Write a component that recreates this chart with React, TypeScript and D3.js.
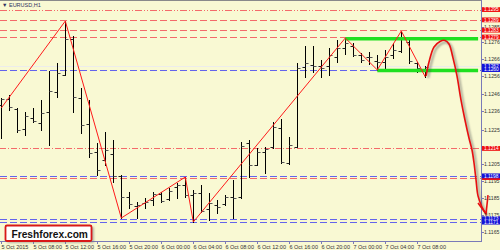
import React from "react";
import * as d3 from "d3";

// ---------- data ----------
const symbolTitle = "EURUSD,H1";
const timeLabels = [
  "5 Oct 2015", "5 Oct 08:00", "5 Oct 12:00", "5 Oct 16:00", "5 Oct 20:00",
  "6 Oct 00:00", "6 Oct 04:00", "6 Oct 08:00", "6 Oct 12:00", "6 Oct 16:00",
  "6 Oct 20:00", "7 Oct 00:00", "7 Oct 04:00", "7 Oct 08:00",
];
const timeLabelBars = [0, 4, 8, 12, 16, 20, 24, 28, 32, 36, 40, 44, 48, 52];

const opens = [
  1.12393, 1.12428, 1.1237, 1.12253, 1.12318, 1.12288, 1.12353, 1.12469, 1.12568, 1.12778,
  1.12434, 1.12283, 1.12119, 1.12073, 1.12108, 1.11979, 1.11857, 1.11804, 1.11822, 1.11839,
  1.11874, 1.11845, 1.11915, 1.11927, 1.11868, 1.1188, 1.11787, 1.1181, 1.11816, 1.11857,
  1.11857, 1.12172, 1.12043, 1.12119, 1.12148, 1.12259, 1.12055, 1.12148, 1.12615, 1.12627,
  1.12621, 1.12621, 1.12673, 1.12726, 1.12738, 1.12685, 1.12673, 1.1265, 1.12644, 1.12685,
  1.12708, 1.12761, 1.12638, 1.12598,
];
const highs = [
  1.12434, 1.12452, 1.12376, 1.12353, 1.12376, 1.12423, 1.12592, 1.12638, 1.12883, 1.12796,
  1.12493, 1.12423, 1.12172, 1.12236, 1.12189, 1.11985, 1.11886, 1.11828, 1.11851, 1.11886,
  1.11886, 1.11909, 1.11938, 1.11973, 1.11898, 1.11927, 1.1188, 1.11839, 1.11868, 1.11956,
  1.12178, 1.12189, 1.12143, 1.12148, 1.12294, 1.12312, 1.12207, 1.12638, 1.12738, 1.12738,
  1.12656, 1.12726, 1.12773, 1.12784, 1.12755, 1.12697, 1.12703, 1.12685, 1.12714, 1.12755,
  1.12825, 1.12778, 1.12644, 1.12621,
];
const lows = [
  1.12201, 1.12364, 1.12236, 1.12218, 1.12294, 1.12248, 1.1216, 1.1244, 1.12568, 1.12353,
  1.1223, 1.1209, 1.11985, 1.12043, 1.11944, 1.11734, 1.11792, 1.11734, 1.11792, 1.1181,
  1.11828, 1.11839, 1.11851, 1.11857, 1.11711, 1.11769, 1.11722, 1.11763, 1.1181, 1.11734,
  1.11851, 1.11973, 1.12043, 1.11997, 1.12143, 1.12055, 1.12049, 1.12148, 1.12557, 1.12586,
  1.12557, 1.12568, 1.12644, 1.12691, 1.12679, 1.12644, 1.12633, 1.12598, 1.12609, 1.12668,
  1.12703, 1.12638, 1.12586, 1.12557,
];
const closes = [
  1.12428, 1.12382, 1.12248, 1.12329, 1.123, 1.12347, 1.12475, 1.1258, 1.12778, 1.1244,
  1.12277, 1.12113, 1.12014, 1.12131, 1.11979, 1.11857, 1.11816, 1.1181, 1.11828, 1.11874,
  1.11833, 1.11892, 1.11927, 1.11868, 1.1188, 1.11775, 1.11822, 1.11798, 1.11857, 1.11851,
  1.12154, 1.12043, 1.12119, 1.12137, 1.12265, 1.12061, 1.1216, 1.12609, 1.12638, 1.12621,
  1.12609, 1.12685, 1.12726, 1.12755, 1.12685, 1.12656, 1.12673, 1.12644, 1.12673, 1.12714,
  1.12778, 1.1265, 1.12609, 1.12615,
];

const zigzagBars = [0, 8, 15, 23, 24, 43, 47, 50, 53];
const zigzagPrices = [1.12376, 1.12883, 1.11734, 1.11973, 1.11711, 1.12784, 1.12598, 1.12825, 1.12557];

const priceTicks = [
  "1.1285", "1.1276", "1.1266", "1.1256", "1.1246", "1.1236", "1.1225",
  "1.1205", "1.1195", "1.1185", "1.1175", "1.1165",
];

const redLevels = [1.1295, 1.1289, 1.1283, 1.1279, 1.1214, 1.1197];
const redLevelKinds = ["dashdotdot", "dash", "dash", "dash", "dashdot", "dash"];
const redLabelHidden = [false, false, false, false, false, true];
const blueLevels = [1.1260, 1.1198, 1.1173, 1.1171];
const bidPrice = 1.1262;

const greenPrices = [1.1278, 1.12594];
const greenStartBars = [43, 47];
const greenEndBar = 59.6;

const forecastBars = [53.1, 53.46, 54.09, 54.84, 55.46, 55.96, 56.46, 56.96, 57.46, 57.96, 58.46, 58.84, 59.09, 59.34, 59.59, 60.09, 60.59];
const forecastPrices = [1.12563, 1.12644, 1.12732, 1.12764, 1.1277, 1.12749, 1.12668, 1.12563, 1.12423, 1.12306, 1.12201, 1.12131, 1.12055, 1.11956, 1.11863, 1.11798, 1.11758];
const arrowBarbBars = [59.59, 60.84];
const arrowBarbPrices = [1.11822, 1.11868];

const brand = "Freshforex.com";

// ---------- layout ----------
const W = 500;
const H = 250;
const axisX = 481;
const plotTop = 1;
const plotBottom = 241;

export default function App() {
  const y = d3.scaleLinear().domain([1.116, 1.13]).range([plotBottom, plotTop]);
  const x = d3.scaleLinear().domain([0, 53]).range([1.3, 425.3]);
  const px = (i: number) => Math.round(x(i)) + 0.5;

  const red = "#f46a6a";
  const blue = "#6464ec";
  const dashes: Record<string, string> = {
    dash: "7,3",
    dashdot: "6,2,1,2",
    dashdotdot: "7,2,1,2,1,2",
  };

  const zig = d3.line<number>().x((d, k) => x(zigzagBars[k])).y((d) => y(d));
  const forecast = d3
    .line<number>()
    .x((d, k) => x(forecastBars[k]))
    .y((d) => y(d))
    .curve(d3.curveCatmullRom.alpha(0.5));
  const tipX = x(forecastBars[forecastBars.length - 1]);
  const tipY = y(forecastPrices[forecastPrices.length - 1]);
  const barbPath = `M${x(arrowBarbBars[0])},${y(arrowBarbPrices[0])}L${tipX},${tipY}L${x(arrowBarbBars[1])},${y(arrowBarbPrices[1])}`;

  const font = "'Liberation Sans', Arial, sans-serif";
  const boxH = 4.8;
  const lblSize = 4.8;

  return (
    <svg width={W} height={H} style={{ position: "absolute", left: 0, top: 0 }} fontFamily={font}>
      <defs>
        <filter id="sh" x="-20%" y="-20%" width="140%" height="140%">
          <feGaussianBlur stdDeviation="1" />
        </filter>
      </defs>
      <rect x={0} y={0} width={W} height={H} fill="#f9f9d3" />
      {/* frame */}
      <line x1={0} x2={axisX} y1={0.5} y2={0.5} stroke="#8a8a8a" />
      <line x1={axisX + 0.5} x2={axisX + 0.5} y1={0} y2={plotBottom} stroke="#7a7ab8" />
      <line x1={0} x2={axisX + 1} y1={plotBottom + 0.5} y2={plotBottom + 0.5} stroke="#7a7ab8" />

      {/* title */}
      <text x={2} y={7} fontSize={5.5} fill="#303060">▼ {symbolTitle}</text>

      {/* bid line */}
      <line x1={0} x2={axisX} y1={Math.round(y(bidPrice)) + 0.5} y2={Math.round(y(bidPrice)) + 0.5} stroke="#ececec" />

      {/* levels */}
      {blueLevels.map((p, k) => (
        <line key={"b" + k} x1={0} x2={axisX} y1={Math.round(y(p)) + 0.5} y2={Math.round(y(p)) + 0.5}
          stroke={blue} strokeDasharray={dashes.dash} />
      ))}
      {redLevels.map((p, k) => (
        <line key={"r" + k} x1={0} x2={axisX} y1={Math.round(y(p)) + 0.5} y2={Math.round(y(p)) + 0.5}
          stroke={red} strokeDasharray={dashes[redLevelKinds[k]]} />
      ))}

      {/* bars */}
      {opens.map((o, i) => {
        const xx = px(i);
        return (
          <g key={"bar" + i}>
            <line x1={xx} x2={xx} y1={Math.round(y(highs[i]))} y2={Math.round(y(lows[i])) + 1} stroke="#000" />
            <line x1={xx - 3} x2={xx} y1={Math.round(y(o)) + 0.5} y2={Math.round(y(o)) + 0.5} stroke="#222" />
            <line x1={xx} x2={xx + 3} y1={Math.round(y(closes[i])) + 0.5} y2={Math.round(y(closes[i])) + 0.5} stroke="#555" />
          </g>
        );
      })}

      {/* green zones */}
      {greenPrices.map((p, k) => (
        <g key={"g" + k}>
          <line x1={x(greenStartBars[k]) + 1} x2={x(greenEndBar) + 1} y1={y(p) + 2} y2={y(p) + 2}
            stroke="#666" strokeWidth={3.5} opacity={0.6} filter="url(#sh)" />
          <line x1={x(greenStartBars[k])} x2={x(greenEndBar)} y1={y(p)} y2={y(p)}
            stroke="#20e020" strokeWidth={3.5} />
        </g>
      ))}

      {/* zigzag */}
      <path d={zig(zigzagPrices) || ""} fill="none" stroke="#ff1a1a" strokeWidth={1} />

      {/* forecast curve */}
      <g transform="translate(2,2)" opacity={0.55} filter="url(#sh)">
        <path d={forecast(forecastPrices) || ""} fill="none" stroke="#555" strokeWidth={2} />
      </g>
      <path d={forecast(forecastPrices) || ""} fill="none" stroke="#e81010" strokeWidth={1.6} />
      <path d={barbPath} fill="none" stroke="#e81010" strokeWidth={1.6} />

      {/* right axis ticks */}
      {priceTicks.map((t, k) => {
        const yy = Math.round(y(+t)) + 0.5;
        return (
          <g key={"t" + k}>
            <line x1={axisX} x2={axisX + 3} y1={yy} y2={yy} stroke="#7a7ab8" />
            <text x={axisX + 3} y={yy + 1.6} fontSize={5.2} fill="#333">{t}</text>
          </g>
        );
      })}
      {redLevels.map((p, k) => (
        <g key={"rl" + k}>
          <rect x={axisX + 1} y={y(p) - boxH / 2} width={18} height={boxH} fill="#f01010" />
          {redLabelHidden[k] ? null : (
            <text x={axisX + 3} y={y(p) + 1.7} fontSize={lblSize} fill="#fff">{p.toFixed(4)}</text>
          )}
        </g>
      ))}
      {[bidPrice, ...blueLevels].map((p, k) => (
        <g key={"bl" + k}>
          <rect x={axisX + 1} y={y(p) - boxH / 2} width={18} height={boxH} fill="#1414d8" />
          <text x={axisX + 3} y={y(p) + 1.7} fontSize={lblSize} fill="#fff">{p.toFixed(4)}</text>
        </g>
      ))}

      {/* time axis */}
      {timeLabels.map((t, k) => {
        const xx = px(timeLabelBars[k]);
        return (
          <g key={"x" + k}>
            <line x1={xx} x2={xx} y1={plotBottom} y2={plotBottom + 3} stroke="#7a7ab8" />
            <text x={xx} y={249} fontSize={5.5} fill="#333">{t}</text>
          </g>
        );
      })}

      {/* brand box */}
      <rect x={7} y={227} width={87} height={16} fill="#777" opacity={0.5} filter="url(#sh)" />
      <rect x={5.5} y={225.5} width={86} height={15.5} fill="#fff" stroke="#d81818" strokeWidth={1.8} rx={1.5} />
      <text x={11.5} y={237.5} fontSize={10.2} fontWeight="bold" fill="#111">{brand}</text>
    </svg>
  );
}
